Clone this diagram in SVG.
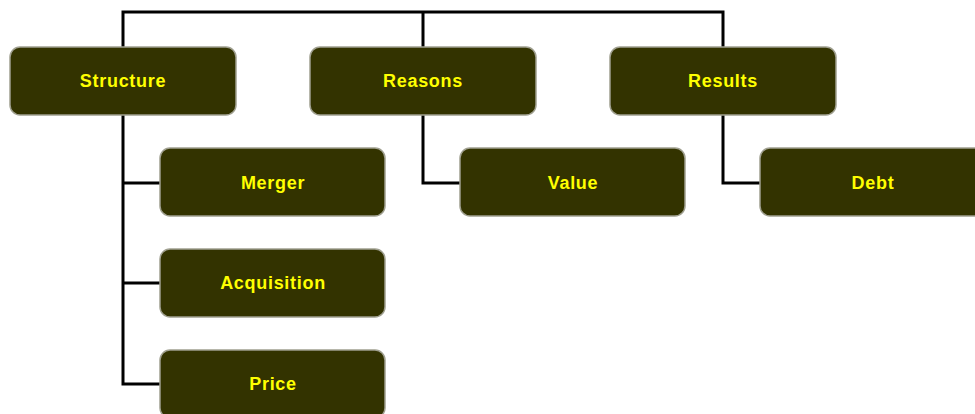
<svg xmlns="http://www.w3.org/2000/svg" width="975" height="414" viewBox="0 0 975 414">
  <style>
    .box { fill: #333300; stroke: #a0a090; stroke-width: 1.5; }
    .lbl { font-family: "Liberation Sans", Arial, sans-serif; font-size: 18px; font-weight: bold; letter-spacing: 0.7px; fill: #ffff00; text-anchor: middle; dominant-baseline: central; }
    .wire { fill: none; stroke: #000000; stroke-width: 3; }
  </style>
  <rect width="975" height="414" fill="#ffffff"/>
  <g id="connectors">
    <path class="wire" d="M123,47 V12 H723 V47 M423,12 V47"/>
    <path class="wire" d="M123,115 V384 H160 M123,183 H160 M123,283 H160"/>
    <path class="wire" d="M423,115 V183 H460"/>
    <path class="wire" d="M723,115 V183 H760"/>
  </g>
  <g id="structure"><rect class="box" x="10" y="47" width="226" height="68" rx="10"/><text class="lbl" x="123" y="81">Structure</text></g>
  <g id="reasons"><rect class="box" x="310" y="47" width="226" height="68" rx="10"/><text class="lbl" x="423" y="81">Reasons</text></g>
  <g id="results"><rect class="box" x="610" y="47" width="226" height="68" rx="10"/><text class="lbl" x="723" y="81">Results</text></g>
  <g id="merger"><rect class="box" x="160" y="148" width="225" height="68" rx="10"/><text class="lbl" x="273" y="183">Merger</text></g>
  <g id="acquisition"><rect class="box" x="160" y="249" width="225" height="68" rx="10"/><text class="lbl" x="273" y="283">Acquisition</text></g>
  <g id="price"><rect class="box" x="160" y="350" width="225" height="68" rx="10"/><text class="lbl" x="273" y="384">Price</text></g>
  <g id="value"><rect class="box" x="460" y="148" width="225" height="68" rx="10"/><text class="lbl" x="573" y="183">Value</text></g>
  <g id="debt"><rect class="box" x="760" y="148" width="225" height="68" rx="10"/><text class="lbl" x="873" y="183">Debt</text></g>
</svg>
